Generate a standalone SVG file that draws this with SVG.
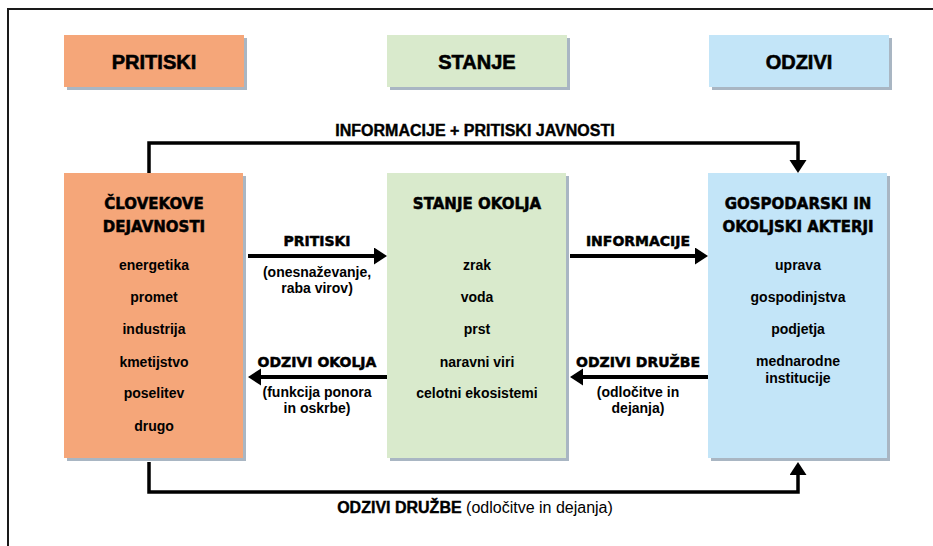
<svg xmlns="http://www.w3.org/2000/svg" width="933" height="546" viewBox="0 0 933 546">
<style>
.hdr{font-family:"Liberation Sans",Arial,sans-serif;font-weight:bold;font-size:20px;text-anchor:middle;fill:#000;stroke:#000;stroke-width:0.6}
.ttl{font-family:"DejaVu Sans",sans-serif;font-weight:bold;font-size:15px;text-anchor:middle;fill:#000;stroke:#000;stroke-width:0.5}
.al{font-family:"DejaVu Sans",sans-serif;font-weight:bold;font-size:14px;text-anchor:middle;fill:#000;stroke:#000;stroke-width:0.5}
.it{font-family:"Liberation Sans",Arial,sans-serif;font-weight:bold;font-size:14px;text-anchor:middle;fill:#000}
.cl{font-family:"Liberation Sans",Arial,sans-serif;font-weight:bold;font-size:16px;text-anchor:middle;fill:#000;stroke:#000;stroke-width:0.4}
.reg{font-weight:normal;stroke:none}
.sh{fill:#a9b6c3}
.p{fill:#f5a679}
.s{fill:#d9eacc}
.o{fill:#c3e5f8}
.ln{fill:none;stroke:#000;stroke-width:4}
.cn{fill:none;stroke:#000;stroke-width:3.5}
</style>
<defs>
<marker id="ah" markerUnits="userSpaceOnUse" markerWidth="14" markerHeight="18" refX="0" refY="8.5" orient="auto" viewBox="0 0 14 18">
<path d="M0,0 L13,8.5 L0,17 z" fill="#000"/>
</marker>
</defs>
<rect width="933" height="546" fill="#fff"/>
<path d="M8,546 V9 H933" fill="none" stroke="#1a1a1a" stroke-width="2"/>

<g id="hdr-pritiski">
<rect class="sh" x="67" y="38" width="180" height="52"/>
<rect class="p" x="64" y="35" width="180" height="52"/>
<text class="hdr" x="154" y="69">PRITISKI</text>
</g>
<g id="hdr-stanje">
<rect class="sh" x="390" y="38" width="180" height="52"/>
<rect class="s" x="387" y="35" width="180" height="52"/>
<text class="hdr" x="477" y="69">STANJE</text>
</g>
<g id="hdr-odzivi">
<rect class="sh" x="712" y="38" width="180" height="52"/>
<rect class="o" x="709" y="35" width="180" height="52"/>
<text class="hdr" x="799" y="69">ODZIVI</text>
</g>

<g id="node-clovekove">
<rect class="sh" x="67" y="176" width="179" height="285"/>
<rect class="p" x="64" y="173" width="179" height="285"/>
<text class="ttl" x="154" y="209">ČLOVEKOVE</text>
<text class="ttl" x="154" y="232">DEJAVNOSTI</text>
<text class="it" x="154" y="270">energetika</text>
<text class="it" x="154" y="302">promet</text>
<text class="it" x="154" y="334">industrija</text>
<text class="it" x="154" y="367">kmetijstvo</text>
<text class="it" x="154" y="398">poselitev</text>
<text class="it" x="154" y="431">drugo</text>
</g>

<g id="node-stanje-okolja">
<rect class="sh" x="390" y="176" width="179" height="285"/>
<rect class="s" x="387" y="173" width="179" height="285"/>
<text class="ttl" x="477" y="209">STANJE OKOLJA</text>
<text class="it" x="477" y="270">zrak</text>
<text class="it" x="477" y="302">voda</text>
<text class="it" x="477" y="334">prst</text>
<text class="it" x="477" y="367">naravni viri</text>
<text class="it" x="477" y="398">celotni ekosistemi</text>
</g>

<g id="node-akterji">
<rect class="sh" x="711" y="176" width="179" height="285"/>
<rect class="o" x="708" y="173" width="179" height="285"/>
<text class="ttl" x="798" y="209">GOSPODARSKI IN</text>
<text class="ttl" x="798" y="232">OKOLJSKI AKTERJI</text>
<text class="it" x="798" y="270">uprava</text>
<text class="it" x="798" y="302">gospodinjstva</text>
<text class="it" x="798" y="334">podjetja</text>
<text class="it" x="798" y="366">mednarodne</text>
<text class="it" x="798" y="383">institucije</text>
</g>

<g id="connectors">
<path class="ln" d="M248,256 H374" marker-end="url(#ah)"/>
<path class="ln" d="M570,256 H695" marker-end="url(#ah)"/>
<path class="ln" d="M387,377 H261" marker-end="url(#ah)"/>
<path class="ln" d="M708,377 H583" marker-end="url(#ah)"/>
<path class="cn" d="M149,173 V143 H798 V160" marker-end="url(#ah)"/>
<path class="cn" d="M149,462 V492 H798 V475" marker-end="url(#ah)"/>
<text class="al" x="317" y="246">PRITISKI</text>
<text class="it" x="317" y="277">(onesnaževanje,</text>
<text class="it" x="317" y="293">raba virov)</text>
<text class="al" x="638" y="246">INFORMACIJE</text>
<text class="al" x="317" y="367">ODZIVI OKOLJA</text>
<text class="it" x="317" y="397">(funkcija ponora</text>
<text class="it" x="317" y="413">in oskrbe)</text>
<text class="al" x="638" y="367">ODZIVI DRUŽBE</text>
<text class="it" x="638" y="397">(odločitve in</text>
<text class="it" x="638" y="413">dejanja)</text>
<text class="cl" x="475" y="136">INFORMACIJE + PRITISKI JAVNOSTI</text>
<text class="cl" x="475" y="513">ODZIVI DRUŽBE <tspan class="reg">(odločitve in dejanja)</tspan></text>
</g>
</svg>
